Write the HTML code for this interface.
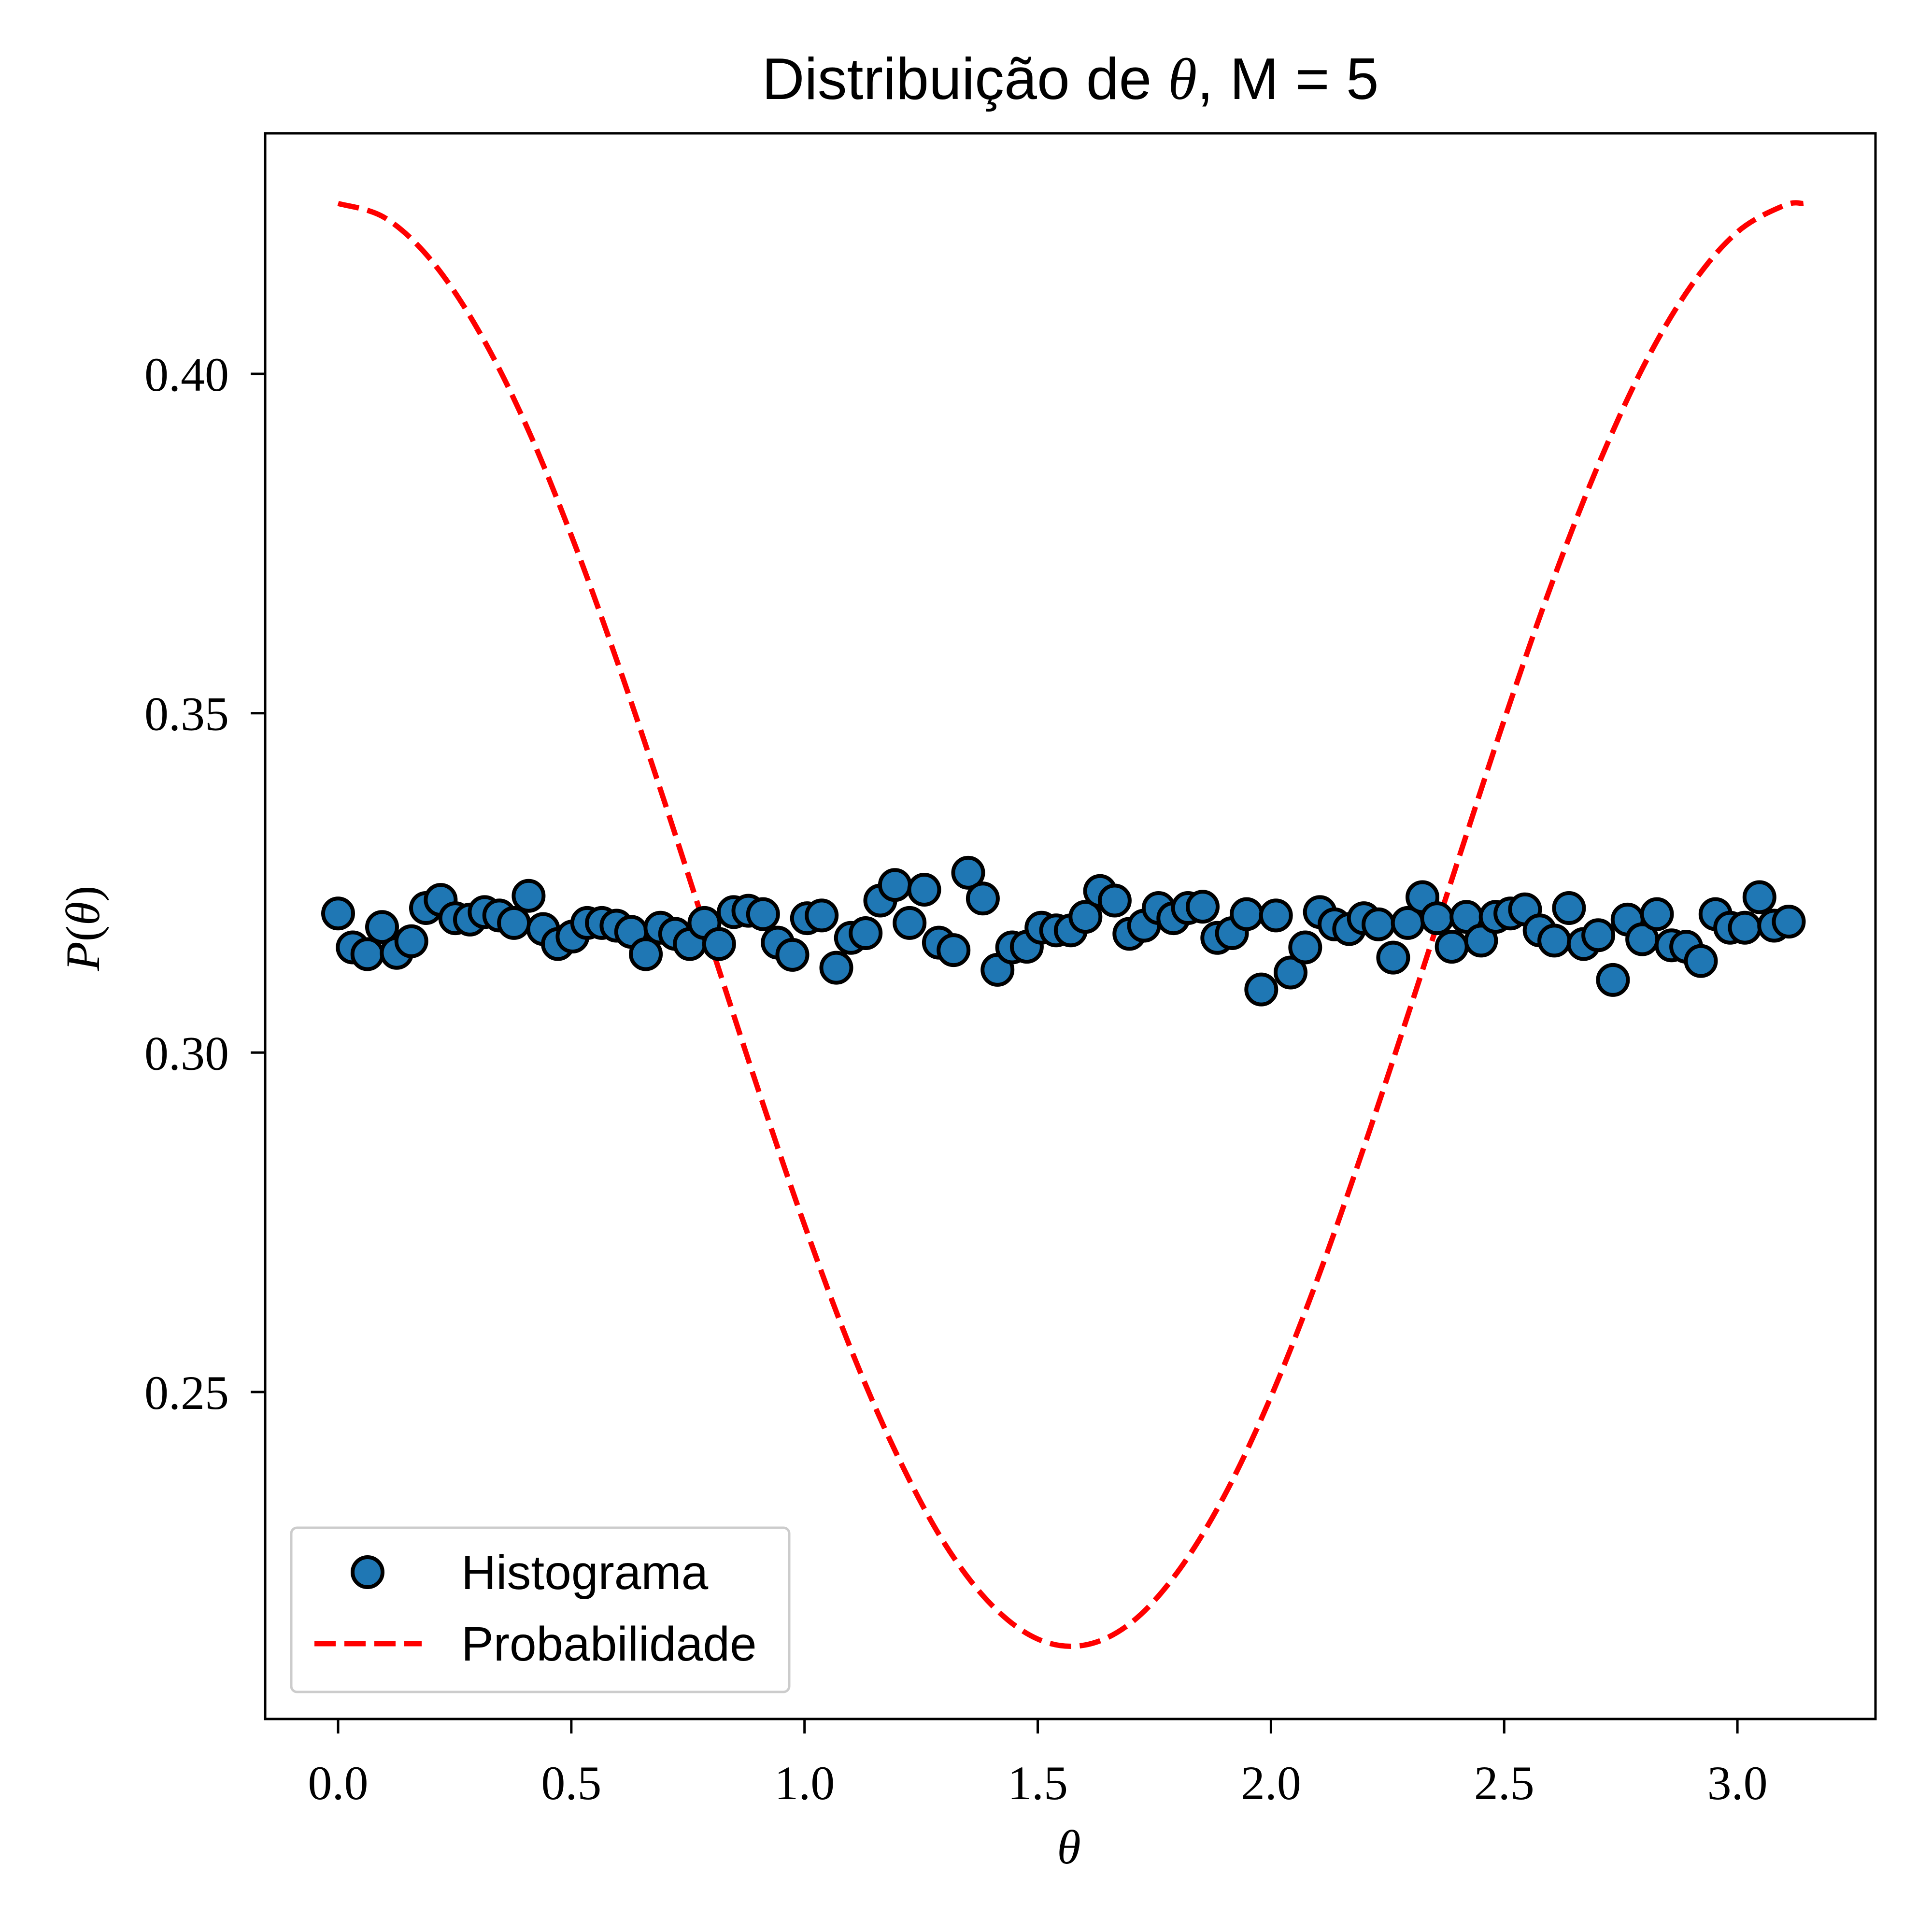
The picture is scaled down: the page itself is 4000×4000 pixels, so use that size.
<!DOCTYPE html>
<html><head><meta charset="utf-8"><style>
html,body{margin:0;padding:0;background:#fff;}
svg{display:block;}
</style></head><body>
<svg id="chart" width="4000" height="4000" viewBox="0 0 4000 4000" xmlns="http://www.w3.org/2000/svg">
<rect width="4000" height="4000" fill="#fff"/>
<text x="2216" y="205" text-anchor="middle" font-family="Liberation Sans, sans-serif" font-size="122">Distribuição de <tspan font-family="Liberation Serif, serif" font-style="italic">θ</tspan>, M = 5</text>
<g id="plot"></g>
<rect x="549" y="276" width="3334" height="3283" fill="none" stroke="#000" stroke-width="5"/>
<g id="xticks"></g>
<g id="yticks"></g>
<text x="2213" y="3858" text-anchor="middle" font-family="Liberation Serif, serif" font-style="italic" font-size="100">θ</text>
<text transform="translate(205,1922) rotate(-90)" text-anchor="middle" font-family="Liberation Serif, serif" font-size="100"><tspan font-style="italic">P</tspan>(<tspan font-style="italic">θ</tspan>)</text>
<g>
<rect x="603" y="3163" width="1031" height="340" rx="12" fill="#fff" fill-opacity="0.8" stroke="#ccc" stroke-width="5"/>
<circle cx="761" cy="3255" r="31" fill="#1f77b4" stroke="#000" stroke-width="8"/>
<text x="955" y="3290" font-family="Liberation Sans, sans-serif" font-size="100">Histograma</text>
<line x1="651" y1="3403" x2="873" y2="3403" stroke="#f00" stroke-width="11" stroke-dasharray="44,18"/>
<text x="955" y="3438" font-family="Liberation Sans, sans-serif" font-size="100">Probabilidade</text>
</g>
</svg>
<script>
const histValues = [.3205,.3155,.3145,.3185,.3147,.3164,.3213,.3225,.3198,.3196,.3207,.3202,.3191,.3231,.3182,.3160,.3171,.3191,.3191,.3187,.3178,.3145,.3184,.3175,.3160,.3191,.3160,.3207,.3209,.3204,.3162,.3144,.3198,.3202,.3125,.3169,.3176,.3224,.3247,.3191,.3240,.3162,.3151,.3265,.3227,.3122,.3155,.3156,.3184,.3180,.3180,.3200,.3238,.3224,.3175,.3187,.3213,.3198,.3213,.3215,.3169,.3176,.3204,.3093,.3202,.3118,.3155,.3207,.3189,.3182,.3198,.3189,.3140,.3191,.3229,.3198,.3156,.3200,.3165,.3200,.3205,.3211,.3180,.3165,.3213,.3160,.3173,.3107,.3196,.3167,.3204,.3158,.3156,.3135,.3204,.3184,.3184,.3229,.3187,.3193];
const probTheta = [0,0.1,0.2,0.3,0.4,0.5,0.6,0.7,0.8,0.9,1.0,1.1,1.2,1.3,1.4,1.5,1.6,1.7,1.8,1.9,2.0,2.1,2.2,2.3,2.4,2.5,2.6,2.7,2.8,2.9,3.0,3.1,3.1416];
const probValues = [.4251,.4230,.4167,.4065,.3929,.3762,.3573,.3369,.3157,.2947,.2746,.2562,.2405,.2277,.2187,.2136,.2127,.2160,.2235,.2347,.2493,.2667,.2862,.3069,.3281,.3490,.3687,.3863,.4013,.4129,.4209,.4248,.4251];
const xTicks = [0,0.5,1,1.5,2,2.5,3];
const xTickLabels = ["0.0","0.5","1.0","1.5","2.0","2.5","3.0"];
const yTicks = [0.25,0.30,0.35,0.40];
const yTickLabels = ["0.25","0.30","0.35","0.40"];
const histStep = Math.PI/100;

const NS="http://www.w3.org/2000/svg";
function X(t){return 700 + t*965.7;}
function Y(v){return 774 + (0.40 - v)*14053;}
function mk(tag,attrs,parent){const e=document.createElementNS(NS,tag);for(const k in attrs)e.setAttribute(k,attrs[k]);parent.appendChild(e);return e;}

const plot=document.getElementById('plot');
const pts=probTheta.map((t,i)=>[X(t),Y(probValues[i])]);
let d='M'+pts[0][0].toFixed(1)+','+pts[0][1].toFixed(1);
for(let i=0;i<pts.length-1;i++){
  const p0=pts[Math.max(0,i-1)],p1=pts[i],p2=pts[i+1],p3=pts[Math.min(pts.length-1,i+2)];
  const c1=[p1[0]+(p2[0]-p0[0])/6,p1[1]+(p2[1]-p0[1])/6];
  const c2=[p2[0]-(p3[0]-p1[0])/6,p2[1]-(p3[1]-p1[1])/6];
  d+='C'+c1[0].toFixed(1)+','+c1[1].toFixed(1)+' '+c2[0].toFixed(1)+','+c2[1].toFixed(1)+' '+p2[0].toFixed(1)+','+p2[1].toFixed(1);
}
const line=mk('path',{d:d,fill:'none',stroke:'#f00','stroke-width':11,'stroke-dasharray':'44,18'},plot);



histValues.forEach((v,i)=>{
  const c=mk('circle',{cx:X(i*histStep).toFixed(1),cy:Y(v).toFixed(1),r:31,fill:'#1f77b4',stroke:'#000','stroke-width':8},plot);
  
  
});

const xg=document.getElementById('xticks');
xTicks.forEach((t,i)=>{
  const l=mk('line',{x1:X(t),x2:X(t),y1:3559,y2:3589,stroke:'#000','stroke-width':5},xg);
  
  
  const tx=mk('text',{x:X(t),y:3725,'text-anchor':'middle','font-family':'Liberation Serif, serif','font-size':100},xg);
  tx.textContent=xTickLabels[i];
  
  
});
const yg=document.getElementById('yticks');
yTicks.forEach((v,i)=>{
  const l=mk('line',{x1:519,x2:549,y1:Y(v),y2:Y(v),stroke:'#000','stroke-width':5},yg);
  
  
  const tx=mk('text',{x:474,y:Y(v)+35,'text-anchor':'end','font-family':'Liberation Serif, serif','font-size':100},yg);
  tx.textContent=yTickLabels[i];
  
  
});
</script>
</body></html>
